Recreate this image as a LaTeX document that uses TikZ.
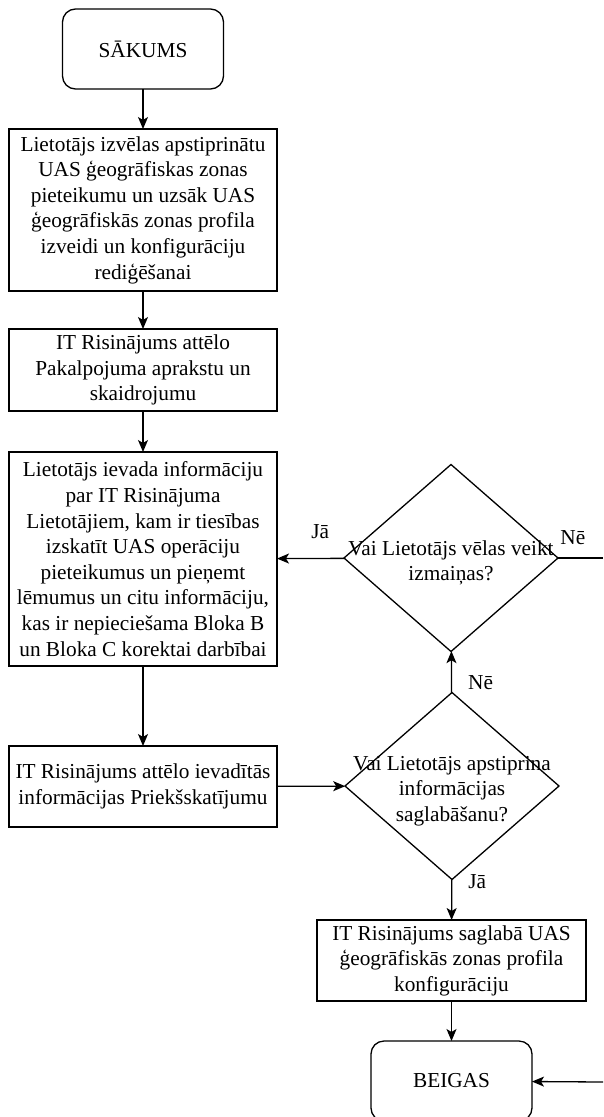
\documentclass[tikz,border=0pt]{standalone}
\usepackage{fontspec}
\setmainfont{Liberation Serif}
\usepackage{tikz}
\usetikzlibrary{arrows.meta,positioning,shapes.geometric}

\begin{document}
\begin{tikzpicture}[
    x=1pt,y=-1pt,
    font=\fontsize{21.3}{25.6}\selectfont,
    line width=1.3pt,
    term/.style={draw, rounded corners=13pt, align=center, minimum width=161pt,
                 minimum height=80pt, inner sep=0pt, outer sep=0pt},
    block/.style={draw, align=center, minimum width=268pt, inner sep=0pt, outer sep=0pt},
    decision/.style={draw, diamond, minimum width=214pt, minimum height=187pt,
                     inner sep=0pt, outer sep=0pt},
    dtext/.style={align=center, inner sep=0pt, yshift=-5pt},
    lbl/.style={inner sep=0pt},
    arrow/.style={-{Stealth[length=12pt,width=10pt,inset=3pt]}}
]
\path[use as bounding box, fill=white] (0,0) rectangle (603,1117);

% Main path
\node[term] (start) at (143,49) {SĀKUMS};
\node[block, minimum height=162pt] (select) at (143,210) {Lietotājs izvēlas apstiprinātu\\UAS ģeogrāfiskas zonas\\pieteikumu un uzsāk UAS\\ģeogrāfiskās zonas profila\\izveidi un konfigurāciju\\rediģēšanai};
\node[block, minimum height=82pt] (describe) at (143,370) {IT Risinājums attēlo\\Pakalpojuma aprakstu un\\skaidrojumu};
\node[block, minimum height=214pt] (enter) at (143,559) {Lietotājs ievada informāciju\\par IT Risinājuma\\Lietotājiem, kam ir tiesības\\izskatīt UAS operāciju\\pieteikumus un pieņemt\\lēmumus un citu informāciju,\\kas ir nepieciešama Bloka B\\un Bloka C korektai darbībai};
\node[block, minimum height=81pt] (preview) at (143,786.5) {IT Risinājums attēlo ievadītās\\informācijas Priekšskatījumu};

% Decisions
\node[decision, label={[dtext]center:Vai Lietotājs vēlas veikt\\izmaiņas?}] (change) at (451,558) {};
\node[decision, label={[dtext]center:Vai Lietotājs apstiprina\\informācijas\\saglabāšanu?}] (confirm) at (452,786) {};

% Saving and end
\node[block, minimum width=269pt, minimum height=81pt] (save) at (451.5,960.5) {IT Risinājums saglabā UAS\\ģeogrāfiskās zonas profila\\konfigurāciju};
\node[term] (finish) at (451.5,1081) {BEIGAS};

% Edge of the picture
\coordinate (outNo) at (603,558);
\coordinate (inEnd) at (603,1082);

% Arrows
\draw[arrow] (start) -- (select);
\draw[arrow] (select) -- (describe);
\draw[arrow] (describe) -- (enter);
\draw[arrow] (enter) -- (preview);
\draw[arrow] (preview) -- (confirm);
\draw[arrow] (confirm) -- node[lbl, pos=.25, right=16pt] {Nē} (change);
\draw[arrow] (change) -- node[lbl, pos=.36, above=19pt] {Jā} (enter);
\draw (change.east) -- node[lbl, pos=.33, above=13pt] {Nē} (outNo);
\draw[arrow] (confirm) -- node[lbl, pos=.05, right=16pt] {Jā} (save);
\draw[arrow] (save) -- (finish);
\draw[arrow] (inEnd) -- (finish);
\end{tikzpicture}
\end{document}
